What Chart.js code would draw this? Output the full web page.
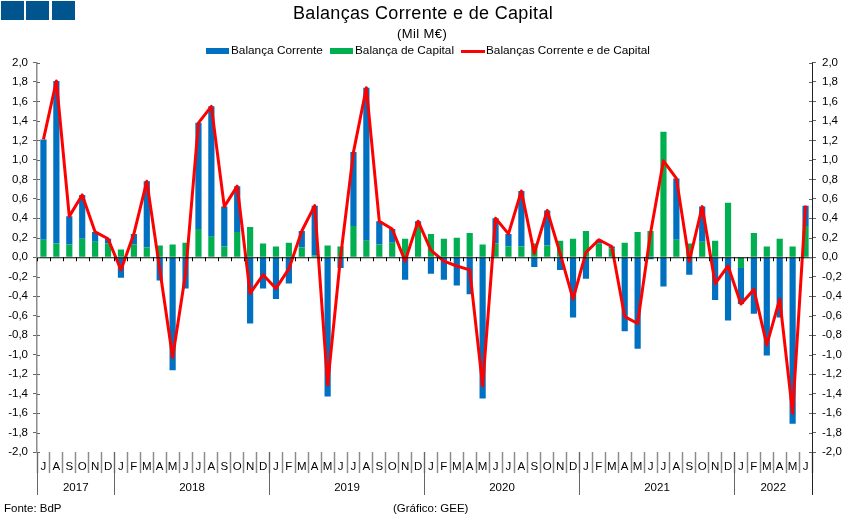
<!DOCTYPE html>
<html>
<head>
<meta charset="utf-8">
<script src="https://cdn.jsdelivr.net/npm/chart.js@4"></script>
<style>
  body { margin: 0; background: #fff; width: 850px; height: 518px; overflow: hidden; position: relative;
         font-family: "Liberation Sans", Arial, sans-serif; color: #000; }
  #wrap { position: absolute; left: 0; top: 0; width: 850px; height: 518px; }
  .sq { position: absolute; top: 1px; width: 23px; height: 19px; background: #00558f; }
  .txt { position: absolute; white-space: nowrap; line-height: 14px; z-index: 2; }
  .key { position: absolute; z-index: 2; }
</style>
</head>
<body>
<div id="wrap"><canvas id="chart"></canvas></div>
<div class="sq" style="left:1px"></div>
<div class="sq" style="left:26px"></div>
<div class="sq" style="left:52px"></div>
<div class="txt" style="left:293px;top:5px;font-size:18px;line-height:16px;letter-spacing:0.33px">Balanças Corrente e de Capital</div>
<div class="txt" style="left:397px;top:27px;font-size:13px;letter-spacing:0.4px">(Mil M€)</div>
<div class="key" style="left:206px;top:48px;width:23px;height:6px;background:#0070C0"></div>
<div class="txt" style="left:231px;top:43px;font-size:11.8px">Balança Corrente</div>
<div class="key" style="left:330px;top:48px;width:23px;height:6px;background:#00B050"></div>
<div class="txt" style="left:355px;top:43px;font-size:11.8px">Balança de Capital</div>
<div class="key" style="left:461px;top:50px;width:24px;height:3px;background:#FF0000"></div>
<div class="txt" style="left:486px;top:43px;font-size:11.8px">Balanças Corrente e de Capital</div>
<div class="txt" style="left:4px;top:501px;font-size:11.5px">Fonte: BdP</div>
<div class="txt" style="left:393px;top:501px;font-size:11.5px">(Gráfico: GEE)</div>
<script>
const monthLabels = [
  "J","A","S","O","N","D",
  "J","F","M","A","M","J","J","A","S","O","N","D",
  "J","F","M","A","M","J","J","A","S","O","N","D",
  "J","F","M","A","M","J","J","A","S","O","N","D",
  "J","F","M","A","M","J","J","A","S","O","N","D",
  "J","F","M","A","M","J"
];
const yearLabels = ["2017","2018","2019","2020","2021","2022"];
const yearStarts = [0, 6, 18, 30, 42, 54];

const balancaCapital = [
  0.18,0.14,0.13,0.19,0.16,0.14,
  0.08,0.13,0.10,0.12,0.13,0.15,0.29,0.21,0.11,0.26,0.31,0.14,
  0.11,0.15,0.10,0.02,0.12,0.11,0.32,0.17,0.13,0.15,0.19,0.33,
  0.24,0.19,0.20,0.25,0.13,0.14,0.11,0.11,0.14,0.12,0.17,0.19,
  0.27,0.14,0.09,0.15,0.26,0.27,1.29,0.18,0.14,0.16,0.17,0.56,
  -0.11,0.25,0.11,0.19,0.11,0.32
];
const balancaCorrente = [
  1.03,1.67,0.29,0.45,0.10,0.05,
  -0.21,0.11,0.68,-0.24,-1.16,-0.32,1.09,1.34,0.41,0.47,-0.68,-0.32,
  -0.43,-0.27,0.17,0.51,-1.43,-0.11,0.76,1.57,0.24,0.14,-0.23,0.04,
  -0.17,-0.23,-0.29,-0.38,-1.45,0.26,0.13,0.57,-0.10,0.36,-0.13,-0.62,
  -0.22,0.04,0.02,-0.76,-0.94,-0.02,-0.30,0.63,-0.18,0.36,-0.44,-0.65,
  -0.37,-0.58,-1.01,-0.62,-1.71,0.21
];
const balancasTotal = [
  1.21,1.81,0.42,0.64,0.26,0.19,
  -0.13,0.24,0.78,-0.12,-1.03,-0.17,1.38,1.55,0.52,0.73,-0.37,-0.18,
  -0.32,-0.12,0.27,0.53,-1.31,0.00,1.08,1.74,0.37,0.29,-0.04,0.37,
  0.07,-0.04,-0.09,-0.13,-1.32,0.40,0.24,0.68,0.04,0.48,0.04,-0.43,
  0.05,0.18,0.11,-0.61,-0.68,0.25,0.99,0.81,-0.04,0.52,-0.27,-0.09,
  -0.48,-0.33,-0.90,-0.43,-1.60,0.53
];

const fontName = '"Liberation Sans", Arial, sans-serif';

// separadores dos anos, nomes dos anos, linha do zero e marcas interiores dos eixos
const extras = {
  id: "extras",
  afterDraw(chart) {
    const { ctx, scales } = chart;
    const x = scales.x, y = scales.y;
    const step = x.getPixelForValue(1) - x.getPixelForValue(0);
    const bottom = y.bottom;
    const zero = y.getPixelForValue(0);
    ctx.save();
    ctx.strokeStyle = "#000";
    ctx.lineWidth = 1;
    ctx.beginPath();
    ctx.moveTo(x.left, zero + 0.5);
    ctx.lineTo(x.right, zero + 0.5);
    for (let i = 0; i <= monthLabels.length; i++) {
      const px = Math.round(x.left + i * step) + 0.5;
      ctx.moveTo(px, zero);
      ctx.lineTo(px, zero + 4);
    }
    ctx.stroke();
    ctx.strokeStyle = "#666";
    ctx.beginPath();
    yearStarts.forEach((s) => {
      const px = Math.round(x.left + s * step) + 0.5;
      ctx.moveTo(px, bottom);
      ctx.lineTo(px, bottom + 43);
    });
    y.ticks.forEach((t) => {
      const py = Math.round(y.getPixelForValue(t.value)) + 0.5;
      ctx.moveTo(x.left, py);
      ctx.lineTo(x.left + 3, py);
      ctx.moveTo(x.right, py);
      ctx.lineTo(x.right - 3, py);
    });
    ctx.stroke();
    ctx.strokeStyle = "#222";
    ctx.beginPath();
    ctx.moveTo(x.right + 0.5, y.top);
    ctx.lineTo(x.right + 0.5, bottom + 43);
    ctx.stroke();
    ctx.fillStyle = "#000";
    ctx.font = "11.5px " + fontName;
    ctx.textAlign = "center";
    ctx.textBaseline = "middle";
    yearLabels.forEach((label, k) => {
      const start = yearStarts[k];
      const end = k + 1 < yearStarts.length ? yearStarts[k + 1] : monthLabels.length;
      ctx.fillText(label, x.left + ((start + end) / 2) * step, bottom + 36);
    });
    ctx.restore();
  }
};

new Chart(document.getElementById("chart"), {
  type: "bar",
  data: {
    labels: monthLabels,
    datasets: [
      { label: "Balança de Capital", data: balancaCapital, backgroundColor: "#00B050", order: 2 },
      { label: "Balança Corrente", data: balancaCorrente, backgroundColor: "#0070C0", order: 2 },
      { type: "line", label: "Balanças Corrente e de Capital", data: balancasTotal,
        borderColor: "#FF0000", backgroundColor: "#FF0000", borderWidth: 3,
        tension: 0, pointRadius: 0, borderJoinStyle: "round", order: 1 }
    ]
  },
  options: {
    responsive: true,
    maintainAspectRatio: false,
    animation: false,
    devicePixelRatio: 1,
    barPercentage: 0.48,
    categoryPercentage: 1,
    layout: { padding: { top: 62.5 } },
    scales: {
      x: {
        stacked: true,
        offset: true,
        border: { display: false },
        grid: { offset: true, drawOnChartArea: false, color: "#8c8c8c", tickLength: 21, tickWidth: 1.5 },
        ticks: { color: "#000", autoSkip: false, maxRotation: 0, minRotation: 0, padding: -13,
                 font: { family: fontName, size: 11.5 } },
        afterFit(scale) { scale.height = 66; }
      },
      y: {
        stacked: true,
        position: "left",
        min: -2, max: 2,
        border: { color: "#8c8c8c", width: 1.5 },
        grid: { drawOnChartArea: false, color: "#666", tickLength: 4 },
        ticks: { stepSize: 0.2, color: "#000", padding: 5,
                 font: { family: fontName, size: 11.5 },
                 callback: (v) => v.toFixed(1).replace(".", ",") },
        afterFit(scale) { scale.width = 37; }
      },
      y2: {
        position: "right",
        min: -2, max: 2,
        border: { display: false },
        grid: { drawOnChartArea: false, color: "#666", tickLength: 4 },
        ticks: { stepSize: 0.2, color: "#000", padding: 6,
                 font: { family: fontName, size: 11.5 },
                 callback: (v) => v.toFixed(1).replace(".", ",") },
        afterFit(scale) { scale.width = 38; }
      }
    },
    plugins: {
      legend: { display: false },
      tooltip: { enabled: false }
    }
  },
  plugins: [extras]
});
</script>
</body>
</html>
